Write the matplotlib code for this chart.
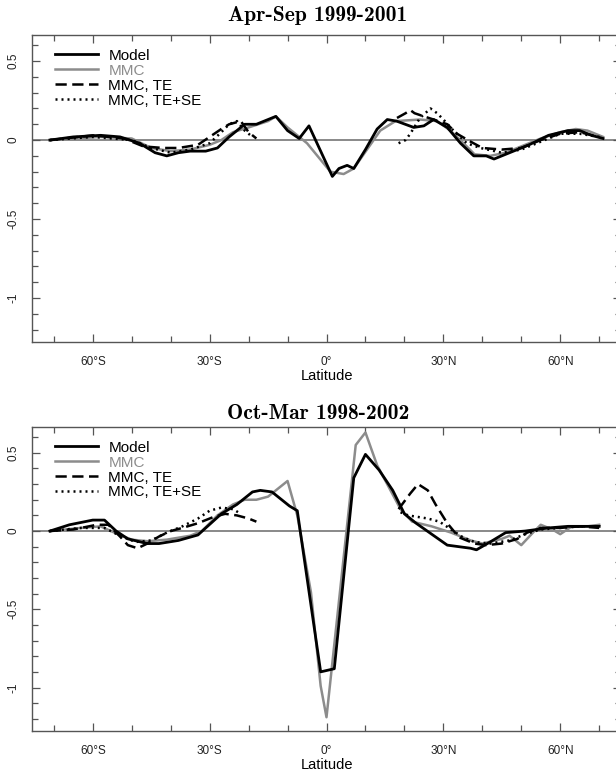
import numpy as np
import matplotlib.pyplot as plt
from matplotlib.ticker import MultipleLocator, FixedLocator

plt.rcParams['font.family'] = ['Liberation Sans', 'DejaVu Sans']

nan = np.nan

# ---- Apr-Sep 1999-2001 ----
as_model_lat = [-71, -65, -58, -53, -48, -44, -41, -38, -35, -31, -28, -25, -21, -18, -13, -10, -7, -4.5,
                1.5, 3.2, 5.3, 7, 10, 13, 15.6, 18, 22.4, 25, 27.5, 31, 34.4, 37.8, 41, 43, 47, 52, 57, 62, 65, 68, 71]
as_model = [0, 0.02, 0.03, 0.02, -0.02, -0.08, -0.10, -0.08, -0.07, -0.07, -0.05, 0.02, 0.10, 0.10, 0.15, 0.06, 0.01, 0.09,
            -0.23, -0.18, -0.16, -0.18, -0.06, 0.07, 0.13, 0.12, 0.08, 0.09, 0.13, 0.08, -0.02, -0.10, -0.10, -0.12, -0.08,
            -0.03, 0.03, 0.06, 0.06, 0.03, 0.01]

as_mmc_lat = [-71, -58, -50, -45, -40, -35, -30, -27, -24, -20, -15, -13, -10, -5, 1, 4.4, 7, 10.4, 13.8, 17.7,
              24, 28.4, 31.8, 36, 38, 42, 46, 50, 55, 60, 64, 67, 71]
as_mmc = [0, 0.02, 0.01, -0.05, -0.07, -0.06, -0.03, 0.0, 0.05, 0.08, 0.12, 0.15, 0.08, -0.02, -0.20, -0.215, -0.18, -0.06,
          0.06, 0.12, 0.13, 0.12, 0.06, -0.04, -0.09, -0.10, -0.08, -0.04, 0.01, 0.05, 0.07, 0.06, 0.02]

as_te_lat = [-71, -60, -52, -47, -42, -38, -33, -30, -27, -25, -22, -20, -18, nan,
             18.1, 20.3, 21.5, 22.6, 25, 27.5, 31, 33.5, 37, 40, 45, 50, 55, 60, 65, 70]
as_te = [0, 0.03, 0.01, -0.04, -0.05, -0.05, -0.03, 0.02, 0.07, 0.10, 0.12, 0.05, 0.01, nan,
         0.14, 0.17, 0.19, 0.17, 0.15, 0.13, 0.10, 0.04, -0.01, -0.05, -0.06, -0.05, 0.0, 0.04, 0.05, 0.02]

as_tese_lat = [-71, -60, -50, -45, -40, -35, -30, -27, -25, -23, -21, -19, nan,
               18.5, 20.3, 21.5, 24, 26.7, 28.4, 30, 32.6, 36, 39.5, 45, 50, 55, 60, 65, 70]
as_tese = [0, 0.02, 0.0, -0.05, -0.08, -0.06, -0.02, 0.05, 0.10, 0.12, 0.06, 0.02, nan,
           -0.02, 0.0, 0.04, 0.14, 0.20, 0.17, 0.13, 0.06, -0.02, -0.05, -0.08, -0.06, -0.01, 0.04, 0.04, 0.02]

# ---- Oct-Mar 1998-2002 ----
om_model_lat = [-71, -66, -60, -57, -54, -51, -46, -43, -38, -33, -31, -27, -23, -19, -17, -14, -11, -9.5, -7.5,
                -1.5, 2, 7, 10, 13.5, 17, 20, 23, 27, 31, 37, 38.5, 42, 46, 51, 57, 62, 70]
om_model = [0, 0.04, 0.07, 0.07, 0.0, -0.05, -0.08, -0.08, -0.06, -0.025, 0.02, 0.11, 0.17, 0.25, 0.26, 0.25, 0.19,
            0.16, 0.13, -0.90, -0.88, 0.34, 0.49, 0.39, 0.26, 0.11, 0.05, -0.02, -0.09, -0.11, -0.12, -0.07, -0.01,
            0.0, 0.02, 0.03, 0.03]

om_mmc_lat = [-71, -63, -58, -54, -50, -46, -41, -35, -32, -28, -24, -21, -18, -15, -13, -10, -7.5, -4, -1.5, 0,
              7.5, 10, 13, 16, 19, 22, 27, 32, 37, 40, 45, 47, 50, 53, 55, 58, 60, 63, 67, 70]
om_mmc = [0, 0.02, 0.03, -0.015, -0.055, -0.065, -0.055, -0.03, 0.0, 0.10, 0.17, 0.20, 0.20, 0.22, 0.26, 0.32, 0.10,
          -0.39, -0.99, -1.19, 0.55, 0.63, 0.42, 0.28, 0.14, 0.06, 0.03, -0.01, -0.06, -0.08, -0.05, -0.03, -0.09,
          -0.01, 0.04, 0.01, -0.02, 0.03, 0.03, 0.04]

om_te_lat = [-71, -65, -59, -56, -53, -51, -48.5, -46, -43, -40, -37, -33, -29, -26, -23, -20, -18, nan,
             18.5, 21.5, 23.5, 26, 28, 31, 34, 38, 41, 45, 49, 51.5, 55, 60, 65, 70]
om_te = [0, 0.01, 0.04, 0.04, -0.035, -0.09, -0.11, -0.08, -0.035, 0.0, 0.02, 0.05, 0.09, 0.11, 0.10, 0.08, 0.06, nan,
         0.14, 0.24, 0.30, 0.26, 0.17, 0.05, -0.04, -0.08, -0.09, -0.08, -0.05, -0.01, 0.02, 0.02, 0.03, 0.02]

om_tese_lat = [-71, -63, -57, -53, -49, -45, -41, -37, -33, -30, -27, -24, -22, nan,
               19, 21, 26, 29, 32, 35, 38, 42, 47, 51, 55, 60, 65, 70]
om_tese = [0, 0.02, 0.02, -0.03, -0.07, -0.06, -0.01, 0.03, 0.08, 0.13, 0.15, 0.14, 0.11, nan,
           0.12, 0.10, 0.08, 0.06, 0.01, -0.04, -0.07, -0.08, -0.06, -0.02, 0.01, 0.02, 0.03, 0.03]

lat_ticks = [-60, -30, 0, 30, 60]
lat_labels = ['60°S', '30°S', '0°', '30°N', '60°N']
y_ticks = [-1, -0.5, 0, 0.5]
y_labels = ['-1', '-0.5', '0', '0.5']

panels = [
    ('Apr-Sep 1999-2001', as_model_lat, as_model, as_mmc_lat, as_mmc, as_te_lat, as_te, as_tese_lat, as_tese),
    ('Oct-Mar 1998-2002', om_model_lat, om_model, om_mmc_lat, om_mmc, om_te_lat, om_te, om_tese_lat, om_tese),
]

W, H = 616, 776
fig = plt.figure(figsize=(W / 100, H / 100), dpi=100)
boxes = [(35, 342), (427, 731)]
title_base = [21, 419]

for k, (title, mlat, m, clat, c, tlat, t, slat, s) in enumerate(panels):
    top, bot = boxes[k]
    ax = fig.add_axes([32 / W, 1 - bot / H, 589 / W, (bot - top) / H])
    ax.axhline(0, color='#808080', lw=1.3, zorder=1)
    ax.plot(mlat, m, color='black', lw=2.0, label='Model', zorder=4)
    ax.plot(clat, c, color='#8c8c8c', lw=1.8, label='MMC', zorder=3)
    ax.plot(tlat, t, color='black', lw=1.8, ls=(0, (4.5, 2.2)), label='MMC, TE', zorder=5)
    ax.plot(slat, s, color='black', lw=1.8, ls=(0, (0.8, 1.6)), label='MMC, TE+SE', zorder=5)

    ax.set_xlim(-75.6, 75.6)
    ax.set_ylim(-1.278, 0.665)
    ax.xaxis.set_major_locator(FixedLocator(lat_ticks))
    ax.set_xticklabels(lat_labels)
    ax.xaxis.set_minor_locator(MultipleLocator(10))
    ax.yaxis.set_major_locator(FixedLocator(y_ticks))
    ax.set_yticklabels(y_labels, rotation=90, va='center')
    ax.yaxis.set_minor_locator(MultipleLocator(0.1))
    ax.tick_params(which='both', direction='in', top=True, right=True, color='#555555', width=0.9)
    ax.tick_params(which='major', length=6)
    ax.tick_params(which='minor', length=4.5)
    ax.tick_params(axis='x', which='major', pad=10, labelsize=8.5, labelcolor='#222222')
    ax.tick_params(axis='y', which='major', pad=9, labelsize=8.5, labelcolor='#222222')
    for sp in ax.spines.values():
        sp.set_color('#555555')
        sp.set_linewidth(1.0)
    ax.set_xlabel('Latitude', fontsize=10.5, labelpad=1)

    leg = ax.legend(loc='upper left', bbox_to_anchor=(0.039, 0.955), frameon=False, fontsize=11,
                    handlelength=2.8, handletextpad=0.7, labelspacing=0.06, borderpad=0, borderaxespad=0)
    leg.get_texts()[1].set_color('#8c8c8c')

    fig.text(318 / W, 1 - title_base[k] / H, title, ha='center', va='baseline',
             fontsize=15.5, family='cmb10')

fig.savefig('out.png', dpi=100)
